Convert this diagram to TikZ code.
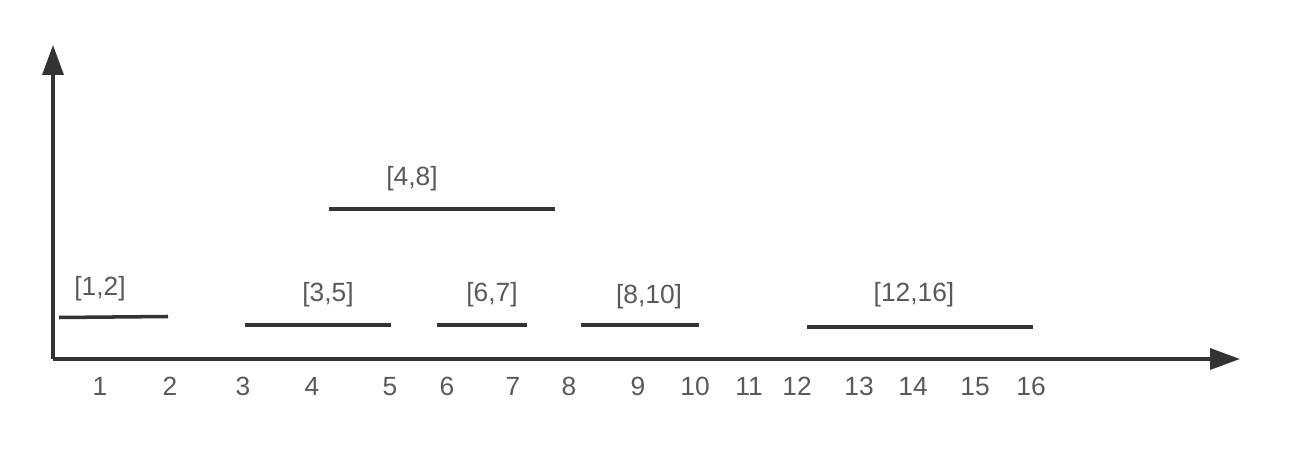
\documentclass[tikz,border=0pt]{standalone}
\usepackage{fontspec}
\setmainfont{Liberation Sans}
\usetikzlibrary{arrows.meta}
\begin{document}
\begin{tikzpicture}[x=0.02cm, y=-0.02cm,
        axis/.style={line width=2pt, draw=black!80, -{Triangle[length=0.6cm, width=0.42cm]}},
        seg/.style={line width=2pt, draw=black!80},
        lbl/.style={text=black!65, font=\fontsize{15}{17}\selectfont, inner sep=0pt, text height=11pt, text depth=0pt}
    ]
        \useasboundingbox (0,0) rectangle (1304,452);

        % axes
        \coordinate (o) at (53,359);
        \coordinate (xend) at (1240,359);
        \coordinate (yend) at (53,45);
        \draw[axis] (o) -- (xend);
        \draw[axis] (o) -- (yend);

        % tick labels
        \foreach \n/\px in {1/100, 2/170, 3/243, 4/312, 5/390, 6/447, 7/513, 8/569,
                9/638, 10/695, 11/749, 12/797, 13/859, 14/913, 15/975, 16/1031}
            \node[lbl] (t\n) at (\px,386) {\n};

        % intervals
        \draw[seg] (59,317.5) -- (168,316.5);
        \node[lbl] (i12) at (100,286) {[1,2]};
        \draw[seg] (245,325) -- (391,325);
        \node[lbl] (i35) at (328,292) {[3,5]};
        \draw[seg] (329,209) -- (555,209);
        \node[lbl] (i48) at (412,176) {[4,8]};
        \draw[seg] (437,325) -- (527,325);
        \node[lbl] (i67) at (492,292) {[6,7]};
        \draw[seg] (581,325) -- (699,325);
        \node[lbl] (i810) at (649,294) {[8,10]};
        \draw[seg] (807,327) -- (1033,327);
        \node[lbl] (i1216) at (914,292) {[12,16]};
    \end{tikzpicture}
\end{document}
